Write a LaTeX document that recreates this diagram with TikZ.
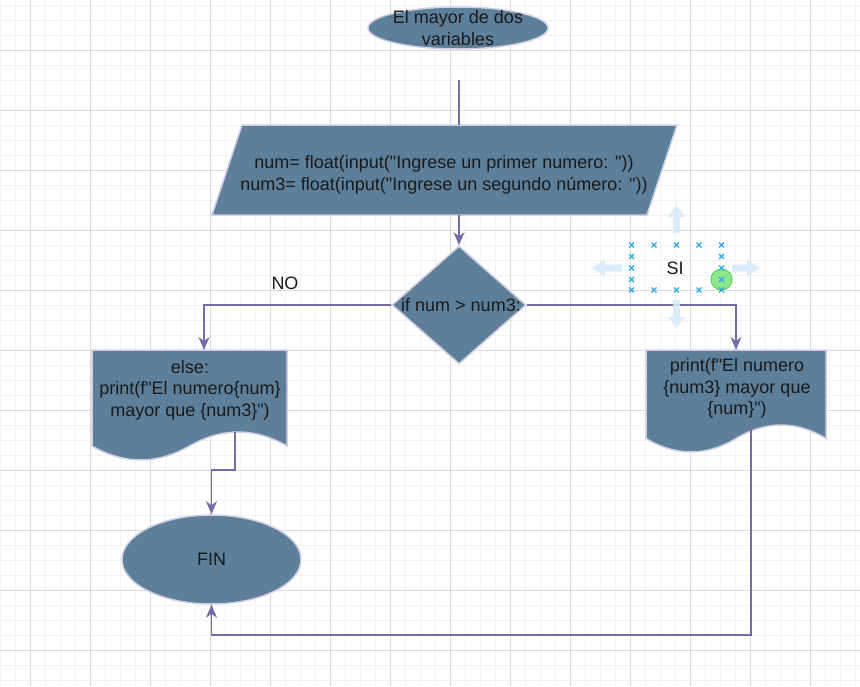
\documentclass[tikz,border=0pt]{standalone}
\usepackage{fontspec}
\setmainfont{Liberation Sans}[Ligatures=TeXOff]
\usetikzlibrary{shapes.geometric,arrows.meta}
\definecolor{shapefill}{HTML}{5D7F99}
\definecolor{shapeline}{HTML}{D0CEE2}
\definecolor{edgecol}{HTML}{736CA8}
\definecolor{txt}{HTML}{1A1A1A}
\definecolor{gridminor}{HTML}{F2F2F2}
\definecolor{gridmajor}{HTML}{D9D9D9}
\definecolor{hoverblue}{HTML}{D3EBFA}
\definecolor{markblue}{HTML}{2DAAE6}
\definecolor{greendot}{HTML}{7EE57E}
\definecolor{greenline}{HTML}{5CCF5C}
\begin{document}
\begin{tikzpicture}[x=1pt,y=-1pt,
  every node/.style={font=\fontsize{18}{21.6}\selectfont, text=txt},
  shp/.style={fill=shapefill, draw=shapeline, line width=1.5pt},
  edge/.style={draw=edgecol, line width=1.5pt},
  arr/.style={edge, -{Stealth[length=13pt,width=11pt,inset=4pt]}},
  lbl/.style={inner sep=0pt, align=center},
  hover/.style={fill=hoverblue, draw=none, fill opacity=0.85},
  xmark/.style={draw=markblue, line width=1.1pt}
]
\useasboundingbox (0,0) rectangle (860,686);
\fill[white] (0,0) rectangle (860,686);
% grid
\foreach \x in {0,15,...,855} \draw[gridminor, line width=1pt] (\x,0) -- (\x,686);
\foreach \y in {5,20,...,680} \draw[gridminor, line width=1pt] (0,\y) -- (860,\y);
\foreach \x in {30,90,...,850} \draw[gridmajor, line width=1pt] (\x,0) -- (\x,686);
\foreach \y in {50,110,...,650} \draw[gridmajor, line width=1pt] (0,\y) -- (860,\y);

% shapes
\node[shp, ellipse, minimum width=180pt, minimum height=42pt, inner sep=0pt] (start) at (458,28) {};
\node[lbl] (starttext) at (458,28) {El mayor de dos\\variables};

\path[shp] (242,125) -- (677,125) -- (647,215) -- (212,215) -- cycle;
\node[lbl] (inp) at (444,175) {num= float(input("Ingrese un primer numero: "))\\num3= float(input("Ingrese un segundo número: "))};

\node[shp, diamond, minimum width=134pt, minimum height=118pt, inner sep=0pt] (dec) at (459,305) {};
\node[lbl] (dectext) at (461,305) {if num > num3:};

\path[shp] (92,350) -- (287,350) -- (287,446) .. controls (254.5,427.4) and (222,427.4) .. (189.5,446)
  .. controls (157,464.6) and (124.5,464.6) .. (92,446) -- cycle;
\node[lbl] (ldoc) at (190,390) {else:\\print(f"El numero\{num\}\\mayor que \{num3\}")};

\path[shp] (646,350) -- (826,350) -- (826,438.5) .. controls (796,420.5) and (766,420.5) .. (736,438.5)
  .. controls (706,456.5) and (676,456.5) .. (646,438.5) -- cycle;
\node[lbl] (rdoc) at (737,388.5) {print(f"El numero\\\{num3\} mayor que\\\{num\}")};

\node[shp, ellipse, minimum width=179pt, minimum height=89pt, inner sep=0pt] (fin) at (211.5,559.5) {FIN};

\node (no) at (285,283) {NO};
\node (si) at (675,268) {SI};

% connector points
\coordinate (t0) at (459,80);
\coordinate (inptop) at (459,125);
\coordinate (inpbot) at (459,215);
\coordinate (ltop) at (204,350);
\coordinate (rtop) at (736,350);
\coordinate (lexit) at (235,432);
\coordinate (lbend) at (235,470);
\coordinate (rexit) at (751,426);
\coordinate (rbend) at (751,635);

\draw[edge] (t0) -- (inptop);
\draw[arr] (inpbot) -- (dec.north);
\draw[arr] (dec.west) -| (ltop);
\draw[arr] (dec.east) -| (rtop);
\draw[arr] (lexit) -- (lbend) -| (fin.north);
\draw[arr] (rexit) -- (rbend) -| (fin.south);

% hover arrows
\fill[hover] (676.5,205) -- (685,217) -- (680,217) -- (680,233) -- (673,233) -- (673,217) -- (668,217) -- cycle;
\fill[hover] (676.5,328) -- (685,317) -- (680,317) -- (680,300) -- (673,300) -- (673,317) -- (668,317) -- cycle;
\fill[hover] (592,268) -- (605,259.5) -- (605,264.5) -- (622,264.5) -- (622,271.5) -- (605,271.5) -- (605,276.5) -- cycle;
\fill[hover] (760,268) -- (747,259.5) -- (747,264.5) -- (732,264.5) -- (732,271.5) -- (747,271.5) -- (747,276.5) -- cycle;

% selection marks
\fill[greendot, draw=greenline, line width=1pt, fill opacity=0.9] (721.5,279.5) circle[radius=10.5pt];
\foreach \x/\y in {631.5/245,654/245,676.5/245,699/245,721.5/245,
                   631.5/290,654/290,676.5/290,699/290,721.5/290,
                   631.5/256.5,631.5/268,631.5/279.5,
                   721.5/256.5,721.5/268,721.5/279.5}
  \draw[xmark] (\x-2.5,\y-2.5) -- (\x+2.5,\y+2.5) (\x-2.5,\y+2.5) -- (\x+2.5,\y-2.5);
\end{tikzpicture}
\end{document}
